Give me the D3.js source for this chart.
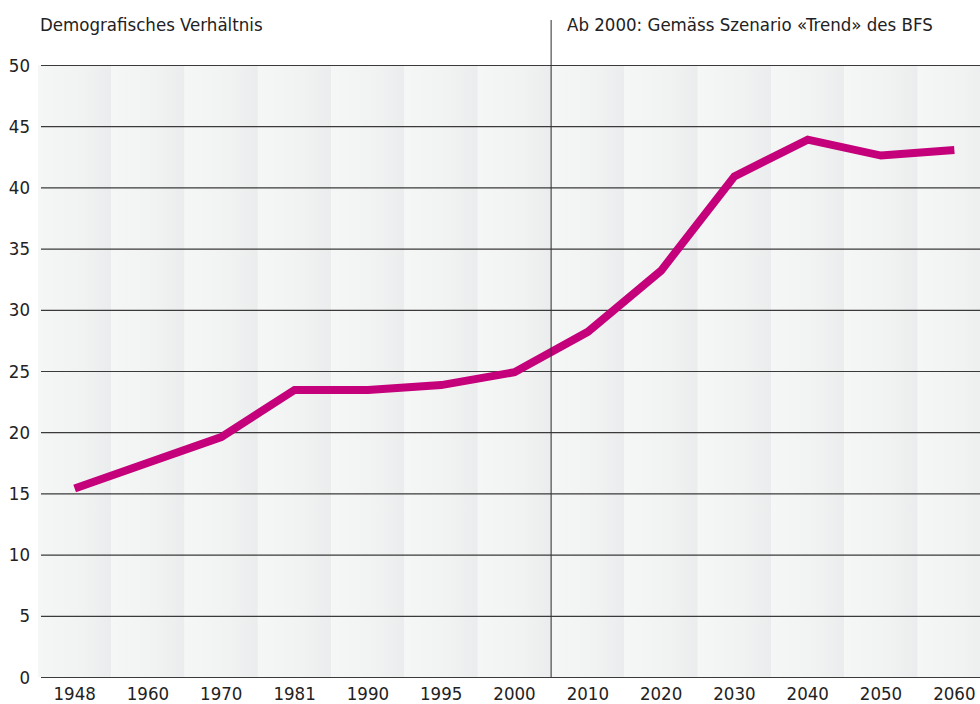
<!DOCTYPE html>
<html>
<head>
<meta charset="utf-8">
<script src="https://cdn.jsdelivr.net/npm/d3@7"></script>
<style>
  body { margin: 0; background: #fff; }
  svg { display: block; }
  text { font-family: "DejaVu Sans Condensed", "DejaVu Sans", sans-serif; fill: #222; }
</style>
</head>
<body>
<svg id="chart"></svg>
<script>
// chart size
const width = 980;
const height = 704;

// data
const years = ['1948', '1960', '1970', '1981', '1990', '1995', '2000',
               '2010', '2020', '2030', '2040', '2050', '2060'];
const ratio = [15.4, 17.5, 19.6, 23.45, 23.45, 23.85, 24.9,
               28.2, 33.2, 40.9, 43.9, 42.6, 43.05];
const yTicks = [0, 5, 10, 15, 20, 25, 30, 35, 40, 45, 50];
const leftTitle = 'Demografisches Verhältnis';
const rightTitle = 'Ab 2000: Gemäss Szenario «Trend» des BFS';
const splitAfter = '2000';

const margin = { top: 65, bottom: 27, left: 38, right: -11 };

const svg = d3.select('#chart')
  .attr('width', width)
  .attr('height', height);

const scales = {
  x: d3.scaleBand()
       .domain(years)
       .range([margin.left, width - margin.right])
       .padding(0),
  y: d3.scaleLinear()
       .domain([0, 50])
       .range([height - margin.bottom, margin.top])
};

drawStripes();
drawGrid();
drawLine();
drawSplit();
drawAxisLabels();
drawTitles();

/*
 * alternating gradient stripes behind the plot
 */
function drawStripes() {
  const defs = svg.append('defs');
  const grad = defs.append('linearGradient')
    .attr('id', 'stripe')
    .attr('x1', '0%').attr('x2', '100%')
    .attr('y1', '0%').attr('y2', '0%');
  grad.append('stop').attr('offset', '0%').attr('stop-color', '#f5f6f6');
  grad.append('stop').attr('offset', '60%').attr('stop-color', '#f1f2f2');
  grad.append('stop').attr('offset', '100%').attr('stop-color', '#ebeced');

  svg.append('g')
    .attr('id', 'stripes')
    .selectAll('rect')
    .data(years)
    .enter()
    .append('rect')
    .attr('x', d => scales.x(d))
    .attr('y', scales.y(50))
    .attr('width', scales.x.bandwidth())
    .attr('height', scales.y(0) - scales.y(50))
    .attr('fill', 'url(#stripe)');
}

/*
 * horizontal grid lines
 */
function drawGrid() {
  const yAxis = d3.axisLeft(scales.y)
    .tickValues(yTicks)
    .tickSize(-(width - margin.left - 3))
    .tickFormat('');

  const g = svg.append('g')
    .attr('id', 'grid')
    .attr('transform', translate(margin.left + 3, 0))
    .call(yAxis);

  g.select('.domain').remove();
  g.selectAll('line')
    .attr('stroke', '#3a3a3a')
    .attr('stroke-width', 1.2);
}

function drawLine() {
  const line = d3.line()
    .x((d, i) => scales.x(years[i]) + scales.x.bandwidth() / 2)
    .y(d => scales.y(d));

  svg.append('path')
    .datum(ratio)
    .attr('fill', 'none')
    .attr('stroke', '#c4007a')
    .attr('stroke-width', 8)
    .attr('stroke-linejoin', 'miter')
    .attr('d', line);
}

/*
 * vertical line between observed and scenario values
 */
function drawSplit() {
  const x = scales.x(splitAfter) + scales.x.bandwidth();
  svg.append('line')
    .attr('x1', x).attr('x2', x)
    .attr('y1', 20).attr('y2', scales.y(0))
    .attr('stroke', '#333')
    .attr('stroke-opacity', 0.8)
    .attr('stroke-width', 1.3);
}

function drawAxisLabels() {
  svg.append('g')
    .attr('id', 'y-labels')
    .selectAll('text')
    .data(yTicks)
    .enter()
    .append('text')
    .attr('x', 30)
    .attr('y', d => scales.y(d))
    .attr('dy', '0.36em')
    .attr('text-anchor', 'end')
    .style('font-size', '18.5px')
    .text(d => d);

  svg.append('g')
    .attr('id', 'x-labels')
    .selectAll('text')
    .data(years)
    .enter()
    .append('text')
    .attr('x', d => scales.x(d) + scales.x.bandwidth() / 2)
    .attr('y', 700)
    .attr('text-anchor', 'middle')
    .style('font-size', '18.5px')
    .text(d => d);
}

function drawTitles() {
  svg.append('text')
    .attr('x', 40)
    .attr('y', 31)
    .style('font-size', '18.5px')
    .text(leftTitle);

  svg.append('text')
    .attr('x', 567)
    .attr('y', 31)
    .style('font-size', '18.5px')
    .text(rightTitle);
}

/*
 * returns a translate string for the transform attribute
 */
function translate(x, y) {
  return 'translate(' + String(x) + ',' + String(y) + ')';
}
</script>
</body>
</html>
